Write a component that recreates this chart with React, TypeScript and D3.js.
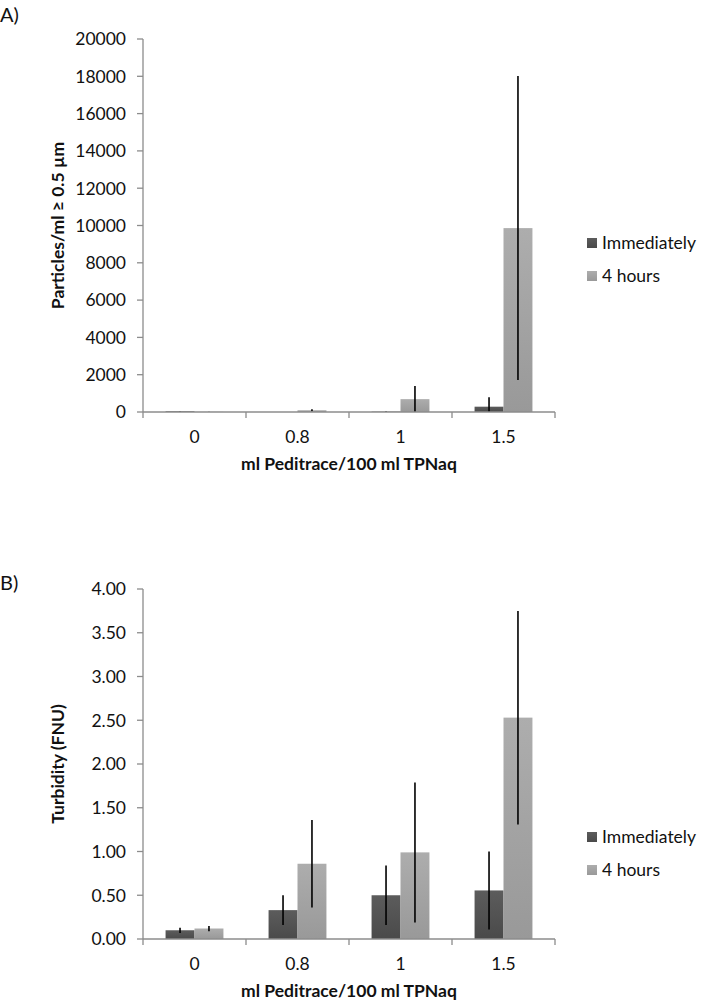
import React from "react";
import * as d3 from "d3";

const categories = ["0", "0.8", "1", "1.5"];
const seriesNames = ["Immediately", "4 hours"];

// panel A: particles/ml >= 0.5 um
const particlesImmediately = [40, 0, 20, 285];
const particlesImmediatelyErr = [10, 0, 15, 505];
const particles4h = [8, 95, 690, 9860];
const particles4hErr = [5, 55, 705, 8150];
const particleTicks = [0, 2000, 4000, 6000, 8000, 10000, 12000, 14000, 16000, 18000, 20000];

// panel B: turbidity (FNU)
const turbidityImmediately = [0.1, 0.33, 0.5, 0.555];
const turbidityImmediatelyErr = [0.03, 0.17, 0.34, 0.445];
const turbidity4h = [0.12, 0.86, 0.99, 2.53];
const turbidity4hErr = [0.03, 0.5, 0.8, 1.22];
const turbidityTicks = [0, 0.5, 1, 1.5, 2, 2.5, 3, 3.5, 4];

const FONT = "Lato, 'Open Sans', sans-serif";
const X0 = 143;
const X1 = 555;

type PanelProps = {
  label: string;
  labelY: number;
  top: number;
  bottom: number;
  max: number;
  ticks: number[];
  fmt: (v: number) => string;
  yTitle: string;
  imm: number[];
  immErr: number[];
  later: number[];
  laterErr: number[];
  legendY: number;
};

function Panel(p: PanelProps) {
  const x = d3.scaleBand<string>().domain(categories).range([X0, X1]).paddingInner(0).paddingOuter(0);
  const y = d3.scaleLinear().domain([0, p.max]).range([p.bottom, p.top]);
  const inner = d3.scaleBand<string>().domain(seriesNames).range([0, x.bandwidth()]).paddingInner(0).paddingOuter(0.78);
  const series = [
    { name: seriesNames[0], vals: p.imm, errs: p.immErr, fill: "url(#gDark)" },
    { name: seriesNames[1], vals: p.later, errs: p.laterErr, fill: "url(#gLight)" },
  ];
  const tickEdges = [...categories.map((c) => x(c) as number), X1];
  const midY = (p.top + p.bottom) / 2;
  return (
    <g>
      <text x={0} y={p.labelY} fontSize={20} fontFamily={FONT} fill="#111">
        {p.label}
      </text>
      {series.map((s) => (
        <g key={s.name}>
          {categories.map((c, i) => {
            const bx = (x(c) as number) + (inner(s.name) as number);
            const v = s.vals[i];
            const h = p.bottom - y(v);
            const bw = inner.bandwidth();
            const lo = Math.max(0, v - s.errs[i]);
            const hi = v + s.errs[i];
            return (
              <g key={c}>
                {h > 0 && <rect x={bx} y={y(v)} width={bw} height={h} fill={s.fill} />}
                {s.errs[i] > 0 && (
                  <line x1={bx + bw / 2} x2={bx + bw / 2} y1={y(lo)} y2={y(hi)} stroke="#000" strokeWidth={1.6} />
                )}
              </g>
            );
          })}
        </g>
      ))}
      {/* y axis */}
      <line x1={X0} x2={X0} y1={p.top} y2={p.bottom} stroke="#8c8c8c" strokeWidth={1.3} />
      {p.ticks.map((t) => (
        <g key={t}>
          <line x1={X0 - 6} x2={X0} y1={y(t)} y2={y(t)} stroke="#8c8c8c" strokeWidth={1.3} />
          <text x={X0 - 17} y={y(t)} dy="0.36em" textAnchor="end" fontSize={17.5} fontFamily={FONT} fill="#111">
            {p.fmt(t)}
          </text>
        </g>
      ))}
      {/* x axis */}
      <line x1={X0} x2={X1} y1={p.bottom} y2={p.bottom} stroke="#8c8c8c" strokeWidth={1.3} />
      {tickEdges.map((tx, i) => (
        <line key={i} x1={tx} x2={tx} y1={p.bottom} y2={p.bottom + 6} stroke="#8c8c8c" strokeWidth={1.3} />
      ))}
      {categories.map((c) => (
        <text
          key={c}
          x={(x(c) as number) + x.bandwidth() / 2}
          y={p.bottom + 31}
          textAnchor="middle"
          fontSize={17.5}
          fontFamily={FONT}
          fill="#111"
        >
          {c}
        </text>
      ))}
      <text x={(X0 + X1) / 2} y={p.bottom + 58} textAnchor="middle" fontSize={17.5} fontWeight="bold" fontFamily={FONT} fill="#111">
        ml Peditrace/100 ml TPNaq
      </text>
      <text
        transform={`translate(64,${midY}) rotate(-90)`}
        textAnchor="middle"
        fontSize={17.5}
        fontWeight="bold"
        fontFamily={FONT}
        fill="#111"
      >
        {p.yTitle}
      </text>
      {/* legend */}
      {series.map((s, i) => (
        <g key={s.name} transform={`translate(587,${p.legendY + i * 33})`}>
          <rect x={0} y={-5} width={10} height={10} fill={s.fill} />
          <text x={15} y={0} dy="0.36em" fontSize={17.5} fontFamily={FONT} fill="#111">
            {s.name}
          </text>
        </g>
      ))}
    </g>
  );
}

export default function App() {
  return (
    <svg
      width={703}
      height={1004}
      style={{ position: "absolute", left: 0, top: 0, background: "#fff" }}
    >
      <defs>
        <linearGradient id="gDark" x1="0" y1="0" x2="0" y2="1">
          <stop offset="0" stopColor="#5c5c5c" />
          <stop offset="1" stopColor="#4a4a4a" />
        </linearGradient>
        <linearGradient id="gLight" x1="0" y1="0" x2="0" y2="1">
          <stop offset="0" stopColor="#adadad" />
          <stop offset="1" stopColor="#999999" />
        </linearGradient>
      </defs>
      <rect width={703} height={1004} fill="#fff" />
      <Panel
        label="A)"
        labelY={22}
        top={39}
        bottom={412}
        max={20000}
        ticks={particleTicks}
        fmt={(v) => String(v)}
        yTitle="Particles/ml ≥ 0.5 µm"
        imm={particlesImmediately}
        immErr={particlesImmediatelyErr}
        later={particles4h}
        laterErr={particles4hErr}
        legendY={243}
      />
      <Panel
        label="B)"
        labelY={590}
        top={589}
        bottom={939}
        max={4}
        ticks={turbidityTicks}
        fmt={(v) => v.toFixed(2)}
        yTitle="Turbidity (FNU)"
        imm={turbidityImmediately}
        immErr={turbidityImmediatelyErr}
        later={turbidity4h}
        laterErr={turbidity4hErr}
        legendY={837}
      />
    </svg>
  );
}
